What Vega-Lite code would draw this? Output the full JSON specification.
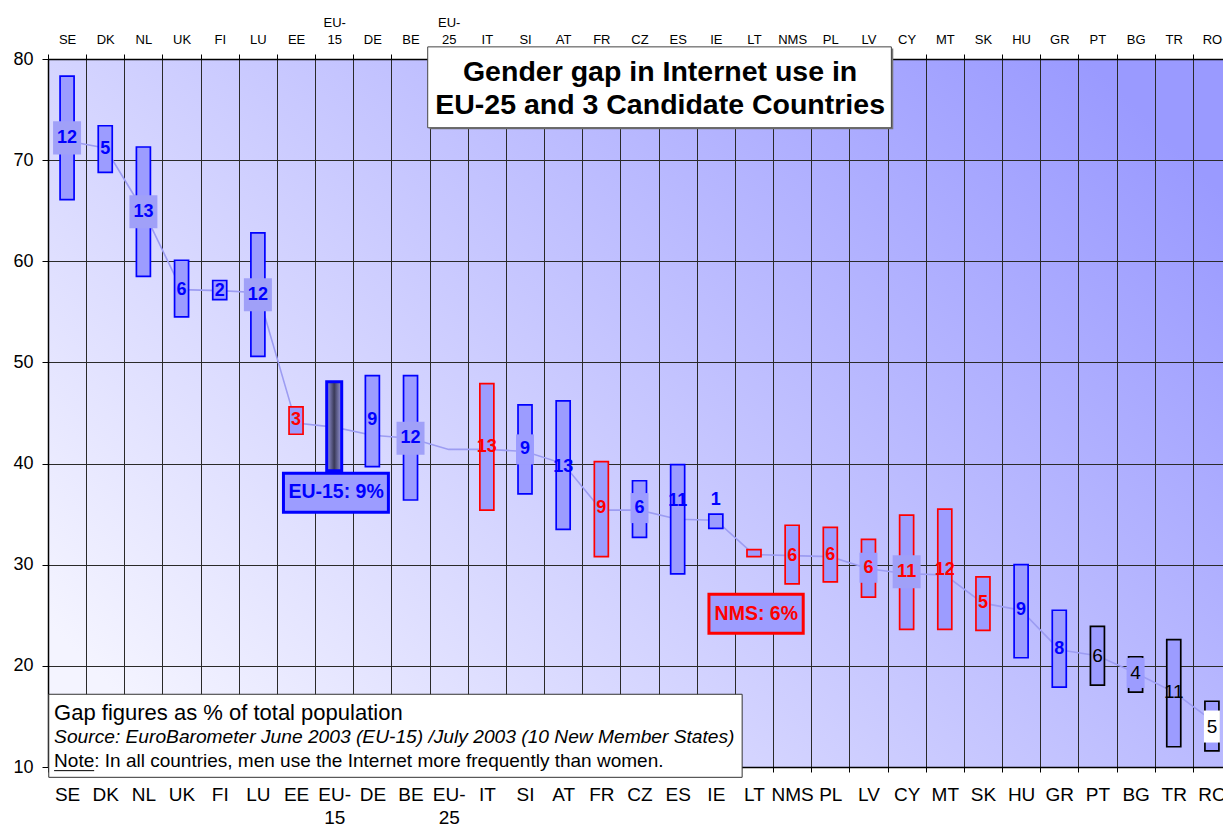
{
  "$schema": "https://vega.github.io/schema/vega-lite/v6.json",
  "width": 1183,
  "height": 708,
  "autosize": "none",
  "padding": {"left": 48, "top": 59, "right": 0, "bottom": 58},
  "background": "white",
  "view": {
    "stroke": null,
    "fill": {"gradient": "linear", "x1": 0, "y1": 0.8, "x2": 1, "y2": 0.2,
      "stops": [{"offset": 0, "color": "#F4F4FF"}, {"offset": 1, "color": "#9A9AFF"}]}
  },
  "config": {
    "font": "Liberation Sans",
    "axis": {"labelFont": "Liberation Sans", "labelColor": "#000000", "domainColor": "#000000", "tickColor": "#000000", "gridColor": "#2a2a2a", "gridOpacity": 1, "gridWidth": 1, "domainWidth": 1.5}
  },
  "datasets": {
    "rows": [
      {"c": "SE", "low": 66.1, "high": 78.3, "total": 71.9, "mid": 72.2, "gap": 12},
      {"c": "DK", "low": 68.8, "high": 73.4, "total": 71.2, "mid": 71.1, "gap": 5},
      {"c": "NL", "low": 58.5, "high": 71.3, "total": 65.0, "mid": 64.9, "gap": 13},
      {"c": "UK", "low": 54.5, "high": 60.1, "total": 57.2, "mid": 57.2, "gap": 6},
      {"c": "FI", "low": 56.2, "high": 58.1, "total": 57.1, "mid": 57.1, "gap": 2},
      {"c": "LU", "low": 50.6, "high": 62.8, "total": 56.9, "mid": 56.7, "gap": 12},
      {"c": "EE", "low": 42.9, "high": 45.6, "total": 44.0, "mid": 44.3, "gap": 3},
      {"c": "EU-15", "low": 39.3, "high": 48.1, "total": 43.6, "mid": null, "gap": 9},
      {"c": "DE", "low": 39.7, "high": 48.7, "total": 42.8, "mid": 44.3, "gap": 9},
      {"c": "BE", "low": 36.4, "high": 48.7, "total": 42.5, "mid": 42.5, "gap": 12},
      {"c": "EU-25", "low": null, "high": null, "total": 41.4, "mid": null, "gap": null},
      {"c": "IT", "low": 35.4, "high": 47.9, "total": 41.4, "mid": 41.6, "gap": 13},
      {"c": "SI", "low": 37.0, "high": 45.8, "total": 41.2, "mid": 41.4, "gap": 9},
      {"c": "AT", "low": 33.5, "high": 46.2, "total": 40.0, "mid": 39.7, "gap": 13},
      {"c": "FR", "low": 30.8, "high": 40.2, "total": 35.4, "mid": 35.6, "gap": 9},
      {"c": "CZ", "low": 32.7, "high": 38.3, "total": 35.4, "mid": 35.6, "gap": 6},
      {"c": "ES", "low": 29.1, "high": 39.9, "total": 34.5, "mid": 36.3, "gap": 11},
      {"c": "IE", "low": 33.6, "high": 35.0, "total": 34.4, "mid": 36.4, "gap": 1},
      {"c": "LT", "low": 30.8, "high": 31.5, "total": 31.0, "mid": null, "gap": null},
      {"c": "NMS", "low": 28.1, "high": 33.9, "total": 30.9, "mid": 30.9, "gap": 6},
      {"c": "PL", "low": 28.3, "high": 33.7, "total": 30.8, "mid": 31.0, "gap": 6},
      {"c": "LV", "low": 26.8, "high": 32.5, "total": 29.6, "mid": 29.7, "gap": 6},
      {"c": "CY", "low": 23.6, "high": 34.9, "total": 29.1, "mid": 29.3, "gap": 11},
      {"c": "MT", "low": 23.6, "high": 35.5, "total": 29.0, "mid": 29.5, "gap": 12},
      {"c": "SK", "low": 23.5, "high": 28.8, "total": 26.2, "mid": 26.2, "gap": 5},
      {"c": "HU", "low": 20.8, "high": 30.0, "total": 25.5, "mid": 25.5, "gap": 9},
      {"c": "GR", "low": 17.9, "high": 25.5, "total": 21.6, "mid": 21.7, "gap": 8},
      {"c": "PT", "low": 18.1, "high": 23.9, "total": 21.0, "mid": 21.0, "gap": 6},
      {"c": "BG", "low": 17.4, "high": 20.9, "total": 19.3, "mid": 19.3, "gap": 4},
      {"c": "TR", "low": 12.0, "high": 22.6, "total": 17.4, "mid": 17.4, "gap": 11},
      {"c": "RO", "low": 11.6, "high": 16.5, "total": 14.6, "mid": 14.0, "gap": 5}
    ]
  },
  "layer": [
    {
      "data": {"name": "rows"},
      "resolve": {"axis": {"x": "independent"}},
      "encoding": {
        "x": {"field": "c", "type": "nominal", "title": null,
          "scale": {"domain": ["SE","DK","NL","UK","FI","LU","EE","EU-15","DE","BE","EU-25","IT","SI","AT","FR","CZ","ES","IE","LT","NMS","PL","LV","CY","MT","SK","HU","GR","PT","BG","TR","RO"], "paddingInner": 0, "paddingOuter": 0}}
      },
      "layer": [
        {
          "mark": {"type": "line", "color": "#9C9CF2", "strokeWidth": 1.6},
          "encoding": {
            "x": {"field": "c", "type": "nominal", "title": null,
              "axis": {"orient": "top", "grid": false, "tickBand": "extent", "tickSize": 5, "labelFontSize": 13, "labelPadding": 25, "labelAngle": 0, "labelLineHeight": 17,
                "labelExpr": "datum.value == 'EU-15' ? ['EU-', '15'] : datum.value == 'EU-25' ? ['EU-', '25'] : ['', datum.value]"}},
            "y": {"field": "total", "type": "quantitative", "title": null,
              "scale": {"domain": [10, 80], "nice": false, "zero": false},
              "axis": {"values": [10,20,30,40,50,60,70,80], "grid": true, "tickSize": 6, "labelFontSize": 18, "labelPadding": 9}},
            "order": {"value": null}
          }
        },
        {
          "transform": [{"filter": "isValid(datum.low) && datum.c != 'EU-15'"}],
          "mark": {"type": "bar", "width": 14, "fill": "#9C9CFF", "strokeWidth": 1.7},
          "encoding": {
            "x": {"field": "c", "type": "nominal", "title": null,
              "axis": {"orient": "bottom", "grid": true, "tickBand": "extent", "tickSize": 5, "labelFontSize": 19, "labelPadding": 13, "labelAngle": 0, "labelLineHeight": 23,
                "labelExpr": "datum.value == 'EU-15' ? ['EU-', '15'] : datum.value == 'EU-25' ? ['EU-', '25'] : datum.value"}},
            "y": {"field": "low", "type": "quantitative", "title": null},
            "y2": {"field": "high"},
            "stroke": {"condition": [
              {"test": "indexof(['EE','IT','FR','LT','NMS','PL','LV','CY','MT','SK'], datum.c) >= 0", "value": "#FF0000"},
              {"test": "indexof(['PT','BG','TR','RO'], datum.c) >= 0", "value": "#000000"}], "value": "#0000FF"}
          }
        },
        {
          "transform": [{"filter": "datum.c == 'EU-15'"}],
          "mark": {"type": "bar", "width": 15, "stroke": "#0000FF", "strokeWidth": 3,
            "fill": {"gradient": "linear", "x1": 0, "y1": 0, "x2": 1, "y2": 0,
              "stops": [{"offset": 0, "color": "#9A9AE0"}, {"offset": 0.5, "color": "#3A3A58"}, {"offset": 1, "color": "#9A9AE0"}]}},
          "encoding": {
            "x": {"field": "c", "type": "nominal", "axis": null},
            "y": {"field": "low", "type": "quantitative", "title": null},
            "y2": {"field": "high"}
          }
        },
        {
          "transform": [{"filter": "indexof(['SE','NL','LU','BE','CY'], datum.c) >= 0"}],
          "mark": {"type": "point", "filled": true, "shape": "M-1,-1.18H1V1.18H-1Z", "size": 784, "color": "#A0A0F8", "opacity": 1, "strokeWidth": 0},
          "encoding": {
            "x": {"field": "c", "type": "nominal", "axis": null},
            "y": {"field": "mid", "type": "quantitative", "title": null}
          }
        },
        {
          "transform": [{"filter": "indexof(['CZ','SI','LV','BG'], datum.c) >= 0"}],
          "mark": {"type": "point", "filled": true, "shape": "M-1,-1.67H1V1.67H-1Z", "size": 324, "color": "#9C9CFF", "opacity": 1, "strokeWidth": 0},
          "encoding": {
            "x": {"field": "c", "type": "nominal", "axis": null},
            "y": {"field": "mid", "type": "quantitative", "title": null}
          }
        },
        {
          "transform": [{"filter": "datum.c == 'RO'"}],
          "mark": {"type": "point", "filled": true, "shape": "M-1,-2H1V2H-1Z", "size": 256, "color": "#FFFFFF", "opacity": 1, "strokeWidth": 0},
          "encoding": {
            "x": {"field": "c", "type": "nominal", "axis": null},
            "y": {"field": "mid", "type": "quantitative", "title": null}
          }
        },
        {
          "transform": [{"filter": "isValid(datum.mid) && indexof(['PT','BG','TR','RO'], datum.c) < 0"}],
          "mark": {"type": "text", "font": "Liberation Sans", "fontSize": 18, "fontWeight": "bold", "baseline": "middle", "align": "center"},
          "encoding": {
            "x": {"field": "c", "type": "nominal", "axis": null},
            "y": {"field": "mid", "type": "quantitative", "title": null},
            "text": {"field": "gap", "type": "quantitative"},
            "color": {"condition": [
              {"test": "indexof(['EE','IT','FR','LT','NMS','PL','LV','CY','MT','SK'], datum.c) >= 0", "value": "#FF0000"}], "value": "#0000FF"}
          }
        },
        {
          "transform": [{"filter": "indexof(['PT','BG','TR','RO'], datum.c) >= 0"}],
          "mark": {"type": "text", "font": "Liberation Sans", "fontSize": 19, "baseline": "middle", "align": "center", "color": "#000000"},
          "encoding": {
            "x": {"field": "c", "type": "nominal", "axis": null},
            "y": {"field": "mid", "type": "quantitative", "title": null},
            "text": {"field": "gap", "type": "quantitative"}
          }
        }
      ]
    },
    {
      "data": {"values": [{}]},
      "layer": [
        {
          "mark": {"type": "rect", "fill": "#777777"},
          "encoding": {
            "x": {"datum": 10.0, "type": "quantitative", "scale": {"domain": [0, 31], "nice": false, "zero": false}, "axis": null},
            "x2": {"datum": 22.15},
            "y": {"datum": 81.05, "type": "quantitative"},
            "y2": {"datum": 73.05}
          }
        },
        {
          "mark": {"type": "rect", "fill": "#FFFFFF", "stroke": "#444444", "strokeWidth": 1},
          "encoding": {
            "x": {"datum": 9.95, "type": "quantitative", "axis": null},
            "x2": {"datum": 22.1},
            "y": {"datum": 81.2, "type": "quantitative"},
            "y2": {"datum": 73.2}
          }
        },
        {
          "mark": {"type": "text", "font": "Liberation Sans", "fontSize": 28.5, "fontWeight": "bold", "align": "center", "baseline": "middle", "lineHeight": 33, "color": "#000000",
            "text": ["Gender gap in Internet use in", "EU-25 and 3 Candidate Countries"]},
          "encoding": {
            "x": {"datum": 16.04, "type": "quantitative", "axis": null},
            "y": {"datum": 78.68, "type": "quantitative"}
          }
        },
        {
          "mark": {"type": "rect", "fill": "#9C9CFF", "stroke": "#0000FF", "strokeWidth": 3},
          "encoding": {
            "x": {"datum": 6.17, "type": "quantitative", "axis": null},
            "x2": {"datum": 8.92},
            "y": {"datum": 39.05, "type": "quantitative"},
            "y2": {"datum": 35.19}
          }
        },
        {
          "mark": {"type": "text", "font": "Liberation Sans", "fontSize": 19.5, "fontWeight": "bold", "align": "center", "baseline": "middle", "color": "#0000FF", "text": "EU-15: 9%"},
          "encoding": {
            "x": {"datum": 7.55, "type": "quantitative", "axis": null},
            "y": {"datum": 37.15, "type": "quantitative"}
          }
        },
        {
          "mark": {"type": "rect", "fill": "#9C9CFF", "stroke": "#FF0000", "strokeWidth": 3},
          "encoding": {
            "x": {"datum": 17.32, "type": "quantitative", "axis": null},
            "x2": {"datum": 19.79},
            "y": {"datum": 27.08, "type": "quantitative"},
            "y2": {"datum": 23.22}
          }
        },
        {
          "mark": {"type": "text", "font": "Liberation Sans", "fontSize": 19.5, "fontWeight": "bold", "align": "center", "baseline": "middle", "color": "#FF0000", "text": "NMS: 6%"},
          "encoding": {
            "x": {"datum": 18.56, "type": "quantitative", "axis": null},
            "y": {"datum": 25.15, "type": "quantitative"}
          }
        },
        {
          "mark": {"type": "rect", "fill": "#FFFFFF", "stroke": "#333333", "strokeWidth": 1},
          "encoding": {
            "x": {"datum": 0.02, "type": "quantitative", "axis": null},
            "x2": {"datum": 18.19},
            "y": {"datum": 17.19, "type": "quantitative"},
            "y2": {"datum": 8.98}
          }
        },
        {
          "mark": {"type": "text", "font": "Liberation Sans", "fontSize": 22, "align": "left", "baseline": "middle", "color": "#000000", "text": "Gap figures as % of total population"},
          "encoding": {
            "x": {"datum": 0.16, "type": "quantitative", "axis": null},
            "y": {"datum": 15.3, "type": "quantitative"}
          }
        },
        {
          "mark": {"type": "text", "font": "Liberation Sans", "fontSize": 19.2, "fontStyle": "italic", "align": "left", "baseline": "middle", "color": "#000000", "text": "Source: EuroBarometer June 2003 (EU-15) /July 2003 (10 New Member States)"},
          "encoding": {
            "x": {"datum": 0.16, "type": "quantitative", "axis": null},
            "y": {"datum": 12.94, "type": "quantitative"}
          }
        },
        {
          "mark": {"type": "text", "font": "Liberation Sans", "fontSize": 19, "align": "left", "baseline": "middle", "color": "#000000", "text": "Note: In all countries, men use the Internet more frequently than women."},
          "encoding": {
            "x": {"datum": 0.16, "type": "quantitative", "axis": null},
            "y": {"datum": 10.56, "type": "quantitative"}
          }
        },
        {
          "mark": {"type": "rule", "color": "#000000", "strokeWidth": 1},
          "encoding": {
            "x": {"datum": 0.16, "type": "quantitative", "axis": null},
            "x2": {"datum": 1.21},
            "y": {"datum": 9.64, "type": "quantitative"}
          }
        }
      ]
    }
  ],
  "resolve": {"scale": {"x": "independent"}, "axis": {"x": "independent"}}
}
